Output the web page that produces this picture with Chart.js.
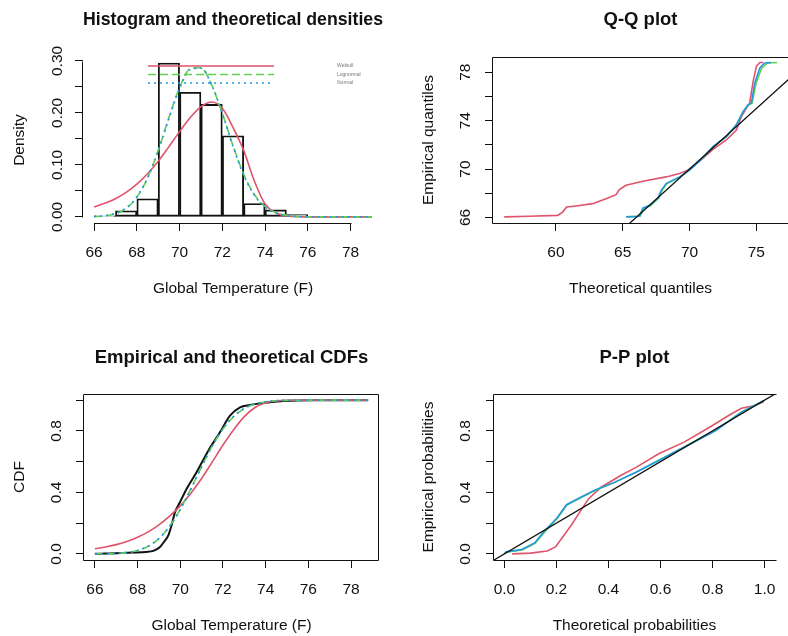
<!DOCTYPE html>
<html><head><meta charset="utf-8">
<script src="https://cdn.jsdelivr.net/npm/chart.js@4/dist/chart.umd.min.js"></script>
<style>
html,body{margin:0;padding:0;background:#fff;}
#wrap{position:relative;width:788px;height:636px;overflow:hidden;background:#fff;}
.panel{position:absolute;width:394px;height:318px;}
canvas{display:block;}
</style></head><body>
<div id="wrap">
<div class="panel" style="left:0;top:0"><canvas id="c1" width="394" height="318"></canvas></div>
<div class="panel" style="left:394px;top:0"><canvas id="c2" width="394" height="318"></canvas></div>
<div class="panel" style="left:0;top:318px"><canvas id="c3" width="394" height="318"></canvas></div>
<div class="panel" style="left:394px;top:318px"><canvas id="c4" width="394" height="318"></canvas></div>
</div>
<script>
// ---------------- DATA ----------------
// Histogram (density per 1 °F bin)
const histBinMids = [66.5, 67.5, 68.5, 69.5, 70.5, 71.5, 72.5, 73.5, 74.5, 75.5, 76.5, 77.5, 78.5];
const histDensity = [0.002, 0.0116, 0.0347, 0.296, 0.2396, 0.2164, 0.156, 0.0257, 0.0135, 0.0045, 0, 0, 0];

// Theoretical densities
const densX         = [66, 66.5, 67, 67.5, 68, 68.5, 69, 69.5, 70, 70.5, 71, 71.5, 72, 72.5, 73, 73.5, 74, 74.5, 75, 75.5, 76, 77, 78, 79];
const densWeibull   = [0.019, 0.026, 0.035, 0.047, 0.063, 0.083, 0.107, 0.135, 0.164, 0.191, 0.212, 0.221, 0.209, 0.172, 0.128, 0.069, 0.025, 0.008, 0.002, 0.0003, 0, 0, 0, 0];
const densLognormal = [0.0004, 0.0018, 0.0059, 0.0162, 0.0378, 0.0748, 0.128, 0.191, 0.249, 0.285, 0.287, 0.254, 0.199, 0.137, 0.082, 0.043, 0.020, 0.0083, 0.0030, 0.0010, 0.0003, 0, 0, 0];
const densNormal    = [0.0007, 0.0024, 0.0069, 0.0174, 0.0386, 0.0747, 0.127, 0.189, 0.247, 0.2835, 0.286, 0.254, 0.199, 0.136, 0.080, 0.042, 0.019, 0.0075, 0.0026, 0.0008, 0.0002, 0, 0, 0];
const legendLabels  = ['Weibull', 'Lognormal', 'Normal'];

// Empirical and theoretical CDFs
const ecdfX = [66.0, 66.5, 67.0, 67.8, 68.4, 68.74, 69.05, 69.25, 69.44, 69.6, 69.75, 69.99, 70.3, 70.77, 71.32, 71.86, 72.33, 72.8, 73.27, 73.74, 74.3, 74.84, 75.46, 76.5, 78.8];
const ecdfY = [0.0, 0.002, 0.004, 0.008, 0.012, 0.019, 0.045, 0.08, 0.12, 0.19, 0.27, 0.337, 0.424, 0.532, 0.673, 0.791, 0.899, 0.953, 0.968, 0.979, 0.988, 0.994, 0.998, 0.999, 1.0];
const cdfX         = [66, 66.5, 67, 67.5, 68, 68.5, 69, 69.5, 70, 70.5, 71, 71.5, 72, 72.5, 73, 73.5, 74, 74.5, 75, 76, 77, 78.8];
const cdfWeibull   = [0.033, 0.045, 0.060, 0.080, 0.108, 0.143, 0.188, 0.245, 0.312, 0.395, 0.49, 0.598, 0.708, 0.808, 0.893, 0.952, 0.983, 0.995, 0.999, 1, 1, 1];
const cdfLognormal = [0.0002, 0.0008, 0.0026, 0.0080, 0.0212, 0.049, 0.0995, 0.180, 0.290, 0.424, 0.567, 0.702, 0.812, 0.893, 0.945, 0.975, 0.989, 0.996, 0.9986, 0.9999, 1, 1];
const cdfNormal    = [0.0003, 0.001, 0.0031, 0.0089, 0.0224, 0.050, 0.0998, 0.179, 0.288, 0.422, 0.566, 0.702, 0.814, 0.895, 0.947, 0.976, 0.990, 0.9966, 0.9989, 1, 1, 1];

// Q-Q plot (theoretical quantile, empirical quantile)
const qqWeibullX   = [56.13, 58.0, 60.13, 60.5, 60.8, 61.5, 62.75, 63.75, 64.5, 64.75, 65.25, 66.5, 68.25, 69.25, 69.88, 70.76, 71.76, 72.76, 73.51, 73.88, 74.26, 74.5, 74.76, 75.01, 75.26, 75.51];
const qqWeibullY   = [66.05, 66.1, 66.17, 66.44, 66.86, 66.95, 67.14, 67.55, 67.88, 68.3, 68.66, 68.99, 69.35, 69.63, 69.91, 70.66, 71.63, 72.4, 73.23, 74.34, 75.04, 75.45, 77.25, 78.5, 78.8, 78.8];
const qqLognormalX = [65.4, 66.3, 66.6, 67.1, 67.7, 67.95, 68.3, 69.3, 70.0, 70.76, 71.76, 72.75, 73.5, 74.0, 74.4, 74.68, 74.98, 75.4, 75.85, 76.55];
const qqLognormalY = [66.05, 66.1, 66.76, 66.98, 67.6, 68.24, 68.8, 69.35, 69.91, 70.66, 71.85, 72.68, 73.65, 74.75, 75.3, 75.45, 77.1, 78.35, 78.77, 78.8];
const qqNormalX    = [65.25, 66.25, 66.5, 67.0, 67.63, 67.88, 68.25, 69.25, 70.0, 70.76, 71.76, 72.76, 73.51, 74.01, 74.38, 74.63, 74.88, 75.26, 75.63, 76.1];
const qqNormalY    = [66.05, 66.1, 66.76, 66.98, 67.6, 68.24, 68.8, 69.35, 69.91, 70.66, 71.85, 72.68, 73.65, 74.75, 75.3, 75.45, 77.1, 78.35, 78.77, 78.8];
const qqRefLine    = [50, 85];   // y = x reference line

// P-P plot (theoretical probability, empirical probability)
const ppWeibullX   = [0.030, 0.10, 0.165, 0.196, 0.22, 0.257, 0.294, 0.324, 0.373, 0.447, 0.508, 0.593, 0.691, 0.789, 0.862, 0.911, 0.96, 0.997];
const ppWeibullY   = [0.0, 0.005, 0.019, 0.045, 0.1, 0.186, 0.283, 0.359, 0.435, 0.510, 0.564, 0.651, 0.727, 0.824, 0.900, 0.947, 0.964, 0.99];
const ppLognormalX = [0.0002, 0.006, 0.068, 0.118, 0.155, 0.203, 0.240, 0.289, 0.350, 0.424, 0.508, 0.605, 0.714, 0.812, 0.910, 0.996];
const ppLognormalY = [0.0, 0.011, 0.026, 0.068, 0.143, 0.230, 0.318, 0.362, 0.414, 0.465, 0.532, 0.619, 0.716, 0.803, 0.922, 0.996];
const ppNormalX    = [0.0003, 0.006, 0.067, 0.116, 0.153, 0.202, 0.239, 0.288, 0.349, 0.423, 0.508, 0.606, 0.716, 0.814, 0.912, 0.997];
const ppNormalY    = [0.0, 0.013, 0.028, 0.071, 0.147, 0.233, 0.32, 0.363, 0.415, 0.465, 0.532, 0.619, 0.716, 0.803, 0.922, 0.996];
const ppRefLine    = [-0.2, 1.2]; // y = x reference line

// Axis ticks and labels
const tempTicks   = [66, 68, 70, 72, 74, 76, 78];
const tempLabels  = ['66', '68', '70', '72', '74', '76', '78'];
const densTicks   = [0, 0.05, 0.10, 0.15, 0.20, 0.25, 0.30];
const densLabels  = ['0.00', '', '0.10', '', '0.20', '', '0.30'];
const qqXTicks    = [60, 65, 70, 75];
const qqXLabels   = ['60', '65', '70', '75'];
const qqYTicks    = [66, 68, 70, 72, 74, 76, 78];
const qqYLabels   = ['66', '', '70', '', '74', '', '78'];
const probTicks   = [0, 0.2, 0.4, 0.6, 0.8, 1.0];
const probYLabels = ['0.0', '', '0.4', '', '0.8', ''];
const probXLabels = ['0.0', '0.2', '0.4', '0.6', '0.8', '1.0'];

// ---------------- STYLE ----------------
const FONT = "'Liberation Sans', Arial, Helvetica, sans-serif";
const INK = '#111111';
const RED = '#DF536B', GREEN = '#61D04F', BLUE = '#2297E6';
const W = 394, H = 318, TL = 8, FS = 15.5, TFS = 18.5;
Chart.defaults.font.family = FONT;
Chart.defaults.color = INK;
Chart.defaults.animation = false;

const mctx = document.createElement('canvas').getContext('2d');
function widest(labels) {
  mctx.font = FS + 'px ' + FONT;
  return Math.max(0, ...labels.map(l => mctx.measureText(l).width));
}
function pts(xs, ys) { return xs.map((x, i) => ({ x: x, y: ys[i] })); }
function curve(xs, ys, color, width, dash, order, smooth) {
  return { type: 'line', data: pts(xs, ys), borderColor: color, borderWidth: width,
    borderDash: dash || [], pointRadius: 0, pointHoverRadius: 0, fill: false,
    cubicInterpolationMode: smooth ? 'monotone' : 'default', tension: 0, order: order };
}

const rFrame = {
  id: 'rFrame',
  afterDatasetsDraw(chart, args, o) {
    const ctx = chart.ctx, a = chart.chartArea;
    ctx.save();
    ctx.strokeStyle = INK; ctx.lineWidth = 1;
    ctx.beginPath();
    if (o.mode === 'axes') {
      const xs = chart.scales.x, ys = chart.scales.y;
      const xt = xs.ticks, yt = ys.ticks;
      const yb = Math.round(a.bottom) + 0.5, xl = Math.round(a.left) - 0.5;
      ctx.moveTo(Math.round(xs.getPixelForValue(xt[0].value)) + 0.5, yb);
      ctx.lineTo(Math.round(xs.getPixelForValue(xt[xt.length - 1].value)) + 0.5, yb);
      ctx.moveTo(xl, Math.round(ys.getPixelForValue(yt[0].value)) + 0.5);
      ctx.lineTo(xl, Math.round(ys.getPixelForValue(yt[yt.length - 1].value)) + 0.5);
    } else {
      const l = Math.round(a.left) - 0.5, r = Math.round(a.right) - 0.5;
      const t = Math.round(a.top) + 0.5, b = Math.round(a.bottom) + 0.5;
      ctx.moveTo(o.openRight ? r + 2 : r, t); ctx.lineTo(l, t); ctx.lineTo(l, b); ctx.lineTo(o.openRight ? r + 2 : r, b);
      if (!o.openRight) ctx.lineTo(r, t);
    }
    ctx.stroke();
    ctx.restore();
  }
};

const rLegend = {
  id: 'rLegend',
  afterDatasetsDraw(chart, args, o) {
    if (!o || !o.items) return;
    const ctx = chart.ctx, a = chart.chartArea;
    ctx.save();
    o.items.forEach((it, i) => {
      const y = a.top + o.y0 + i * o.dy;
      ctx.strokeStyle = it.color; ctx.lineWidth = 1.6; ctx.setLineDash(it.dash);
      ctx.beginPath(); ctx.moveTo(a.left + o.x0, y); ctx.lineTo(a.left + o.x1, y); ctx.stroke();
      ctx.setLineDash([]);
      ctx.fillStyle = '#777'; ctx.font = '5px ' + FONT; ctx.textBaseline = 'middle'; ctx.textAlign = 'left';
      ctx.fillText(it.label, a.left + o.xt, y);
    });
    ctx.restore();
  }
};

function makeChart(id, c, datasets) {
  const titlePadTop = c.titleCy - TFS * 1.2 / 2;
  const xPad = c.xLabCy - c.area.b - TL - FS * 1.2 / 2 + 0.5;
  const yPad = c.area.l - c.yLabCx - TL - widest(c.y.labels) / 2;
  return new Chart(document.getElementById(id), {
    type: 'line',
    data: { datasets: datasets },
    options: {
      responsive: false, devicePixelRatio: 1, animation: false,
      layout: { padding: { left: 0, top: 0, bottom: 0, right: W - c.area.r } },
      plugins: {
        legend: { display: false }, tooltip: { enabled: false },
        title: { display: true, text: c.title, fullSize: false, color: INK,
          font: { family: FONT, size: TFS, weight: 'bold' },
          padding: { top: titlePadTop, bottom: c.area.t - TFS * 1.2 - titlePadTop } },
        rFrame: { mode: c.frame, openRight: !!c.openRight },
        rLegend: c.legend || {}
      },
      scales: {
        x: {
          type: 'linear', position: 'bottom', min: c.x.min, max: c.x.max, offset: false,
          afterBuildTicks: s => { s.ticks = c.x.ticks.map(v => ({ value: v })); },
          afterFit: s => { s.height = H - c.area.b; },
          ticks: { autoSkip: false, minRotation: 0, maxRotation: 0, padding: xPad, color: INK,
            font: { family: FONT, size: FS }, callback: (v, i) => c.x.labels[i] },
          grid: { display: true, drawOnChartArea: false, drawTicks: true, tickLength: TL, color: INK, lineWidth: 1, offset: false },
          border: { display: false },
          title: { display: true, text: c.xTitle, color: INK, font: { family: FONT, size: FS },
            padding: { top: 0, bottom: H - c.xTitleCy - FS * 1.2 / 2 } }
        },
        y: {
          type: 'linear', position: 'left', min: c.y.min, max: c.y.max,
          afterBuildTicks: s => { s.ticks = c.y.ticks.map(v => ({ value: v })); },
          afterFit: s => { s.width = c.area.l; },
          ticks: { autoSkip: false, minRotation: 90, maxRotation: 90, crossAlign: 'center', padding: yPad, color: INK,
            font: { family: FONT, size: FS }, callback: (v, i) => c.y.labels[i] },
          grid: { display: true, drawOnChartArea: false, drawTicks: true, tickLength: TL, color: INK, lineWidth: 1 },
          border: { display: false },
          title: { display: true, text: c.yTitle, color: INK, font: { family: FONT, size: FS },
            padding: { top: c.yTitleCx - FS * 1.2 / 2, bottom: 0 } }
        }
      }
    },
    plugins: [rFrame, rLegend]
  });
}

// ---------------- PANEL 1: histogram + densities ----------------
makeChart('c1', {
  title: 'Histogram and theoretical densities', xTitle: 'Global Temperature (F)', yTitle: 'Density',
  area: { l: 83, r: 383, t: 57, b: 223 }, titleCy: 20, xLabCy: 252, xTitleCy: 289, yLabCx: 57.5, yTitleCx: 20,
  x: { min: 65.48, max: 79.52, ticks: tempTicks, labels: tempLabels },
  y: { min: -0.0118, max: 0.3076, ticks: densTicks, labels: densLabels },
  frame: 'axes',
  legend: { x0: 65, x1: 191, xt: 254, y0: 9, dy: 8.5,
    items: [ { label: legendLabels[0], color: RED, dash: [] },
             { label: legendLabels[1], color: GREEN, dash: [8, 4] },
             { label: legendLabels[2], color: BLUE, dash: [2, 4] } ] }
}, [
  { type: 'bar', data: pts(histBinMids, histDensity), backgroundColor: 'rgba(255,255,255,0)',
    borderColor: INK, borderWidth: 1.2, borderSkipped: false, barPercentage: 1, categoryPercentage: 1, order: 10 },
  curve(densX, densWeibull, RED, 1.6, [], 3, true),
  curve(densX, densLognormal, GREEN, 1.6, [8, 4], 2, true),
  curve(densX, densNormal, BLUE, 1.6, [2, 4], 1, true)
]);

// ---------------- PANEL 2: Q-Q plot ----------------
makeChart('c2', {
  title: 'Q-Q plot', xTitle: 'Theoretical quantiles', yTitle: 'Empirical quantiles',
  area: { l: 99, r: 394, t: 57, b: 223 }, titleCy: 20, xLabCy: 252, xTitleCy: 289, yLabCx: 71.7, yTitleCx: 35,
  x: { min: 55.29, max: 77.37, ticks: qqXTicks, labels: qqXLabels },
  y: { min: 65.54, max: 79.26, ticks: qqYTicks, labels: qqYLabels },
  frame: 'box', openRight: true
}, [
  curve(qqWeibullX, qqWeibullY, RED, 1.6, [], 4, false),
  curve(qqLognormalX, qqLognormalY, GREEN, 1.6, [], 3, false),
  curve(qqNormalX, qqNormalY, BLUE, 1.6, [], 2, false),
  curve(qqRefLine, qqRefLine, INK, 1.3, [], 1, false)
]);

// ---------------- PANEL 3: CDFs ----------------
makeChart('c3', {
  title: 'Empirical and theoretical CDFs', xTitle: 'Global Temperature (F)', yTitle: 'CDF',
  area: { l: 84, r: 379, t: 76, b: 242 }, titleCy: 39.5, xLabCy: 271, xTitleCy: 307.5, yLabCx: 56.7, yTitleCx: 20,
  x: { min: 65.49, max: 79.31, ticks: tempTicks, labels: tempLabels },
  y: { min: -0.04, max: 1.04, ticks: probTicks, labels: probYLabels },
  frame: 'box'
}, [
  curve(ecdfX, ecdfY, INK, 2, [], 4, true),
  curve(cdfX, cdfWeibull, RED, 1.6, [], 3, true),
  curve(cdfX, cdfLognormal, GREEN, 1.6, [8, 4], 2, true),
  curve(cdfX, cdfNormal, BLUE, 1.6, [2, 4], 1, true)
]);

// ---------------- PANEL 4: P-P plot ----------------
makeChart('c4', {
  title: 'P-P plot', xTitle: 'Theoretical probabilities', yTitle: 'Empirical probabilities',
  area: { l: 100, r: 394, t: 76, b: 242 }, titleCy: 39.5, xLabCy: 271, xTitleCy: 307.5, yLabCx: 71.7, yTitleCx: 35,
  x: { min: -0.04, max: 1.04, ticks: probTicks, labels: probXLabels },
  y: { min: -0.04, max: 1.04, ticks: probTicks, labels: probYLabels },
  frame: 'box', openRight: true
}, [
  curve(ppWeibullX, ppWeibullY, RED, 1.6, [], 4, false),
  curve(ppLognormalX, ppLognormalY, GREEN, 1.6, [], 3, false),
  curve(ppNormalX, ppNormalY, BLUE, 1.6, [], 2, false),
  curve(ppRefLine, ppRefLine, INK, 1.3, [], 1, false)
]);
</script>
</body></html>
